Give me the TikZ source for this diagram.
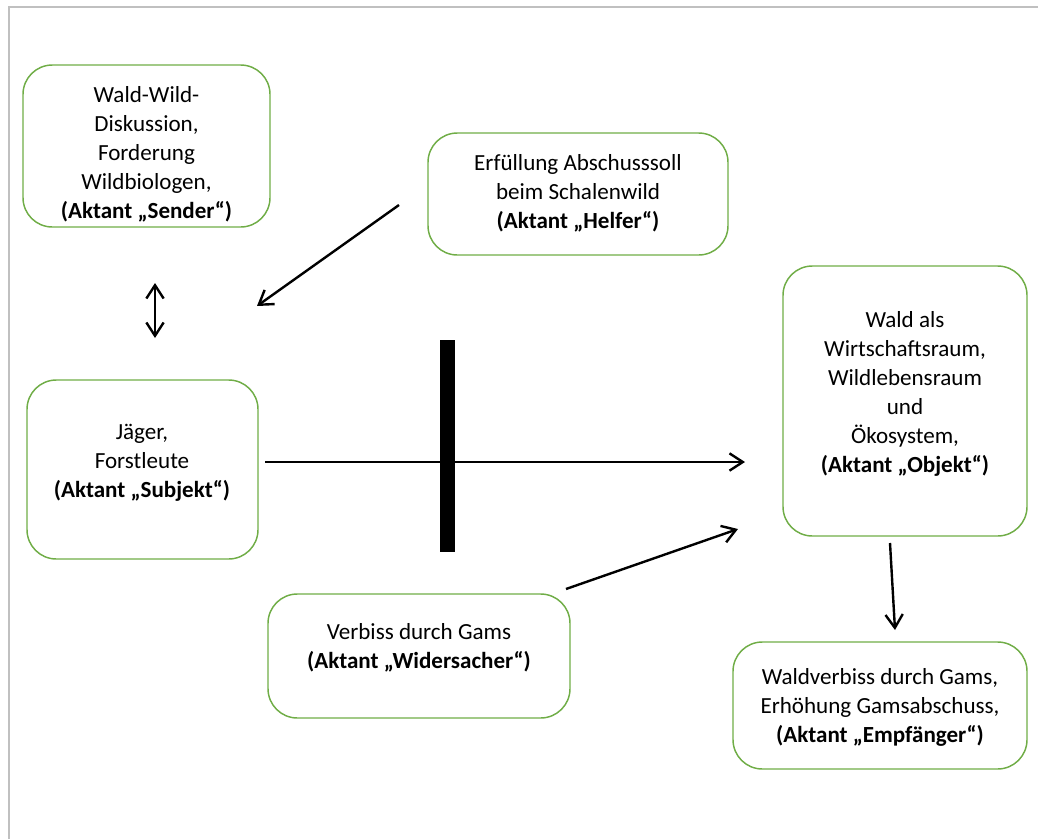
\documentclass[tikz,border=0pt]{standalone}
\usepackage{fontspec}
\setmainfont{Carlito}
\usetikzlibrary{arrows.meta}
\definecolor{boxgreen}{RGB}{112,173,71}
\definecolor{framegray}{RGB}{192,192,192}
\newcommand{\akt}[1]{{\bfseries #1}}
\begin{document}
\begin{tikzpicture}[x=0.75pt,y=-0.75pt,
  box/.style={draw=boxgreen,line width=1.1pt,rounded corners=22pt,inner sep=0pt},
  txt/.style={align=center,font=\fontsize{17.3}{21.75}\selectfont,inner sep=0pt},
  arr/.style={line width=1.8pt,-{Straight Barb[length=10pt,width=13pt,line width=1.8pt]}},
  darr/.style={line width=1.8pt,{Straight Barb[length=10pt,width=13pt,line width=1.8pt]}-{Straight Barb[length=10pt,width=13pt,line width=1.8pt]}}]
\useasboundingbox (0,0) rectangle (1038,839);
\draw[framegray,line width=1.5pt] (9,839) -- (9,7) -- (1038,7);
% boxes
\node[box,minimum width=185.25pt,minimum height=121.5pt] (sender) at (146.5,146) {};
\node[box,minimum width=225pt,minimum height=91.5pt] (helfer) at (578,194) {};
\node[box,minimum width=183pt,minimum height=202.5pt] (objekt) at (905,401) {};
\node[box,minimum width=173.25pt,minimum height=134.25pt] (subjekt) at (142.5,469.5) {};
\node[box,minimum width=226.5pt,minimum height=93pt] (wider) at (419,656) {};
\node[box,minimum width=220.5pt,minimum height=95.25pt] (empf) at (880,705.5) {};
% texts
\node[txt] (senderT) at (146.5,154.5) {Wald-Wild-\\Diskussion,\\Forderung\\Wildbiologen,\\\akt{(Aktant „Sender“)}};
\node[txt] (helferT) at (578,193) {Erfüllung Abschusssoll\\beim Schalenwild\\\akt{(Aktant „Helfer“)}};
\node[txt] (objektT) at (905,394) {Wald als\\Wirtschaftsraum,\\Wildlebensraum\\und\\Ökosystem,\\\akt{(Aktant „Objekt“)}};
\node[txt] (subjektT) at (142,463) {Jäger,\\Forstleute\\\akt{(Aktant „Subjekt“)}};
\node[txt] (widerT) at (419,648) {Verbiss durch Gams\\\akt{(Aktant „Widersacher“)}};
\node[txt] (empfT) at (880,707) {Waldverbiss durch Gams,\\Erhöhung Gamsabschuss,\\\akt{(Aktant „Empfänger“)}};
% arrow end points
\coordinate (d1) at (155,283);
\coordinate (d2) at (155,338);
\coordinate (h1) at (399,205);
\coordinate (h2) at (257,306);
\coordinate (m1) at (265,462);
\coordinate (m2) at (745,462);
\coordinate (w1) at (566,589);
\coordinate (w2) at (738,529);
\coordinate (o1) at (890,543);
\coordinate (o2) at (895,630);
\coordinate (b1) at (447.5,340);
\coordinate (b2) at (447.5,552);
\draw[darr] (d1) -- (d2);
\draw[arr] (h1) -- (h2);
\draw[arr] (m1) -- (m2);
\draw[arr] (w1) -- (w2);
\draw[arr] (o1) -- (o2);
\draw[line width=11.25pt] (b1) -- (b2);
\end{tikzpicture}
\end{document}
